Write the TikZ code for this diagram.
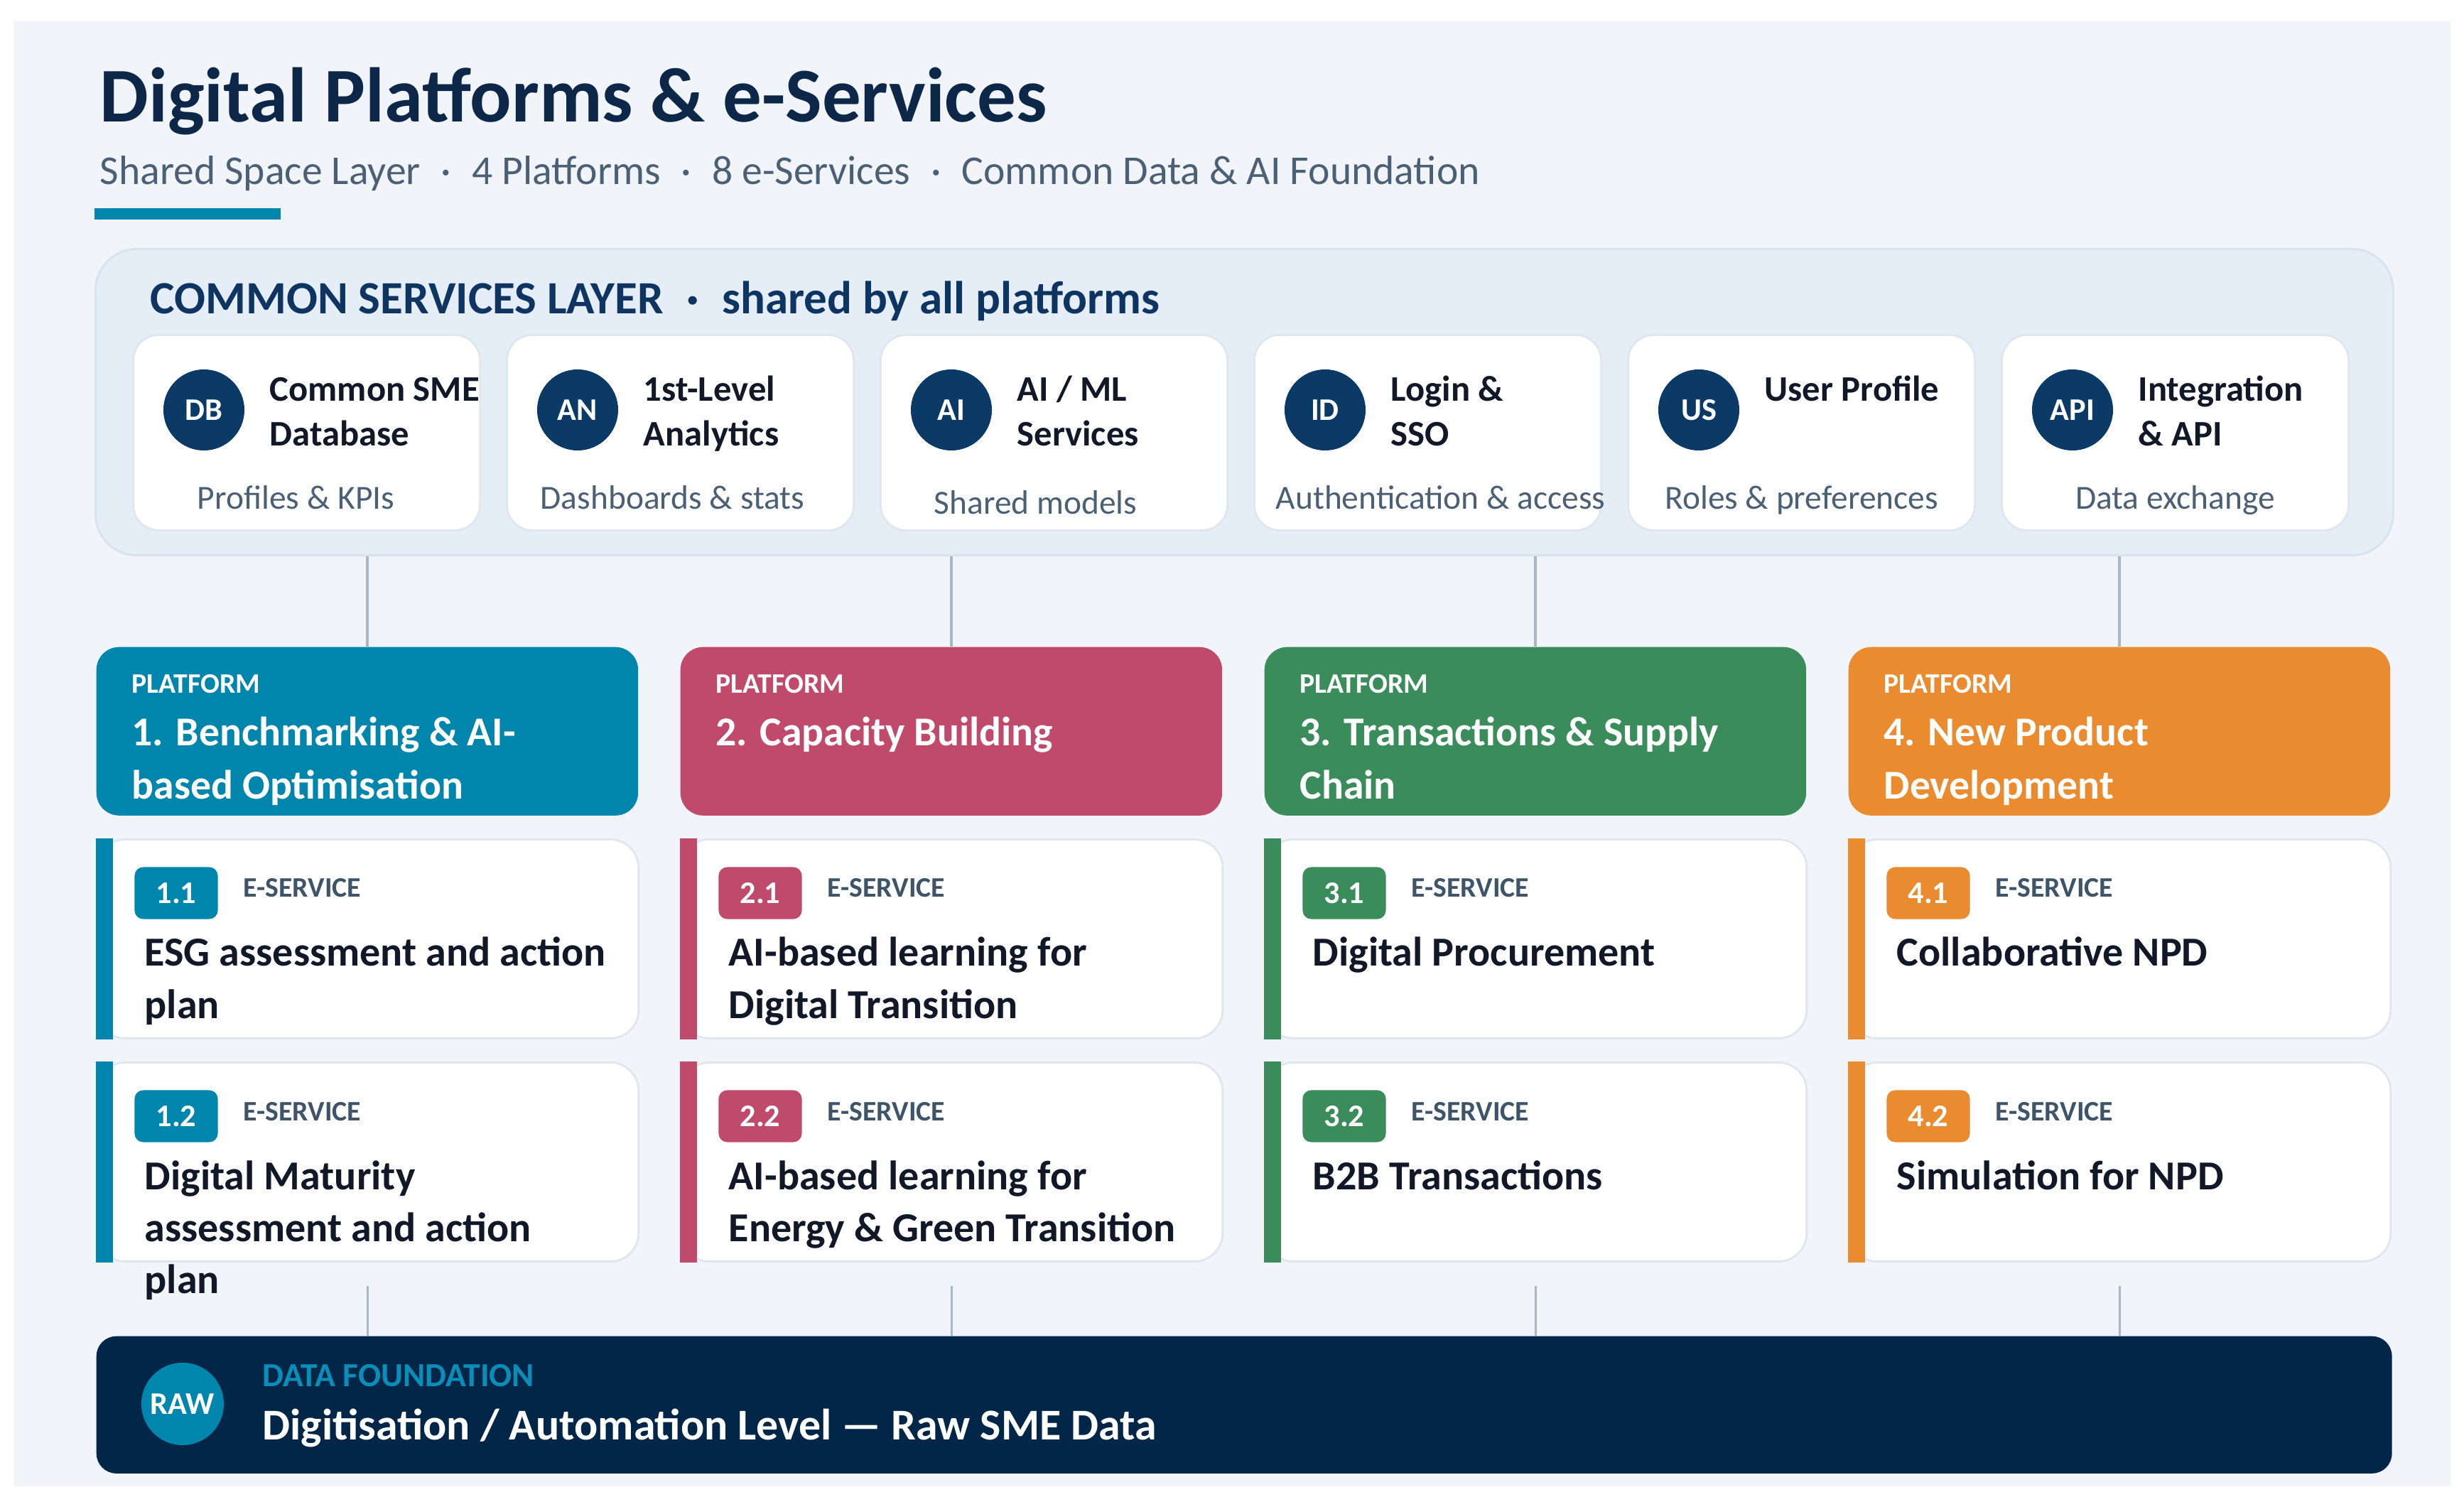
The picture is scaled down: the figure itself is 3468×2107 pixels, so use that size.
\documentclass[tikz,border=0pt]{standalone}
\usepackage{fontspec}
\setmainfont{Carlito}
\usepackage{tikz}
\usetikzlibrary{positioning,calc}

\definecolor{pageBg}{HTML}{F1F5F9}
\definecolor{layerBg}{HTML}{E5EDF6}
\definecolor{layerLine}{HTML}{D9E3EE}
\definecolor{cardLine}{HTML}{DFE6EE}
\definecolor{titleNavy}{HTML}{0D2748}
\definecolor{headNavy}{HTML}{0E3561}
\definecolor{iconNavy}{HTML}{0B3A66}
\definecolor{slate}{HTML}{4B6075}
\definecolor{tagGray}{HTML}{3E5468}
\definecolor{ink}{HTML}{111827}
\definecolor{linkGray}{HTML}{A9B6C4}
\definecolor{pTeal}{HTML}{0086AD}
\definecolor{pRose}{HTML}{C04A6C}
\definecolor{pLeaf}{HTML}{3A8C5A}
\definecolor{pAmber}{HTML}{E98B2E}
\definecolor{barNavy}{HTML}{012647}
\definecolor{fTeal}{HTML}{0A8DB8}

% lines of a label, baseline on the first line
\newcommand{\txtlines}[1]{\begin{tabular}[t]{@{}l@{}}#1\end{tabular}}

\begin{document}
\begin{tikzpicture}[x=0.01cm,y=-0.01cm,
txt/.style={anchor=base west,inner sep=0},
svc/.style={draw=cardLine,line width=0.8pt,fill=white,rounded corners=0.36cm,minimum width=4.88cm,minimum height=2.75cm,anchor=north west,inner sep=0},
ico/.style={circle,fill=#1,minimum size=1.14cm,inner sep=0,text=white,font=\fontsize{12.6}{15}\selectfont\bfseries},
plat/.style={fill=#1,rounded corners=0.32cm,minimum width=7.62cm,minimum height=2.37cm,anchor=north west,inner sep=0},
esvc/.style={draw=cardLine,line width=0.8pt,fill=white,rounded corners=0.4cm,minimum width=7.62cm,minimum height=2.8cm,anchor=north west,inner sep=0},
badge/.style={fill=#1,rounded corners=0.12cm,minimum width=1.17cm,minimum height=0.73cm,inner sep=0,text=white,font=\fontsize{12.6}{15}\selectfont\bfseries},
link/.style={draw=linkGray,line width=0.9pt}]

% page and margins
\fill[white] (0,0) rectangle (3468,2107);
\useasboundingbox (0,0) rectangle (3468,2107);
\fill[pageBg] (20,29) rectangle (3449,2092);

% heading
\node (title) [txt,text=titleNavy,font=\fontsize{31}{38}\selectfont\bfseries] at (140,172) {Digital Platforms \& e-Services};
\node (subtitle) [txt,text=slate,font=\fontsize{16.4}{20}\selectfont] at (140,260)
   {Shared Space Layer\enspace·\enspace 4 Platforms\enspace·\enspace 8 e-Services\enspace·\enspace Common Data \& AI Foundation};
\fill[pTeal] (133,293) rectangle (395,309);

% common services layer
\node (common) [fill=layerBg,draw=layerLine,line width=0.8pt,rounded corners=0.58cm,minimum width=32.32cm,minimum height=4.31cm,anchor=north west,inner sep=0] at (133,349) {};
\node (commonHead) [txt,text=headNavy,font=\fontsize{18.5}{22}\selectfont\bfseries] at (211,442)
   {COMMON SERVICES LAYER\enspace·\enspace shared by all platforms};
\foreach \i/\tag/\name/\sub/\dx/\dy in %
{0/DB/{Common SME\\Database}/{Profiles \& KPIs}/-15/0,
 1/AN/{1st-Level\\Analytics}/{Dashboards \& stats}/-11/0,
 2/AI/{AI / ML\\Services}/{Shared models}/-26/7,
 3/ID/{Login \&\\SSO}/{Authentication \& access}/18/0,
 4/US/{User Profile}/{Roles \& preferences}/0/0,
 5/API/{Integration\\\& API}/{Data exchange}/0/0} {
   \node (cs\i) [svc] at (186+526*\i,470) {};
   \node (cs\i-ico) [ico=iconNavy] at ([shift={(101,107)}]cs\i.north west) {\tag};
   \node (cs\i-name) [txt,text=ink,font=\fontsize{14.4}{17.9}\selectfont\bfseries] at ([shift={(193,95)}]cs\i.north west) {\txtlines{\name}};
   \node (cs\i-sub) [anchor=base,inner sep=0,text=slate,font=\fontsize{13.5}{16}\selectfont] at ([shift={(\dx,247+\dy)}]cs\i.north) {\sub};
}

% platforms
\foreach \i/\col/\name in %
{1/pTeal/{1. Benchmarking \& AI-\\based Optimisation},
 2/pRose/{2. Capacity Building},
 3/pLeaf/{3. Transactions \& Supply\\Chain},
 4/pAmber/{4. New Product\\Development}} {
   \node (p\i) [plat=\col] at (135+822*\i-822,910) {};
   \node (p\i-kind) [txt,text=white,font=\fontsize{11.3}{13}\selectfont\bfseries] at ([shift={(50,66)}]p\i.north west) {PLATFORM};
   \node (p\i-name) [txt,text=white,font=\fontsize{16.4}{21.3}\selectfont\bfseries] at ([shift={(50,140)}]p\i.north west) {\txtlines{\name}};
   \draw[link] (p\i.north |- common.south) -- (p\i.north);
}

% e-services
\foreach \p/\k/\col/\name in %
{1/1/pTeal/{ESG assessment and action\\plan},
 1/2/pTeal/{Digital Maturity\\assessment and action\\plan},
 2/1/pRose/{AI-based learning for\\Digital Transition},
 2/2/pRose/{AI-based learning for\\Energy \& Green Transition},
 3/1/pLeaf/{Digital Procurement},
 3/2/pLeaf/{B2B Transactions},
 4/1/pAmber/{Collaborative NPD},
 4/2/pAmber/{Simulation for NPD}} {
   \node (e\p\k) [esvc] at (135+822*\p-822,1180+314*\k-314) {};
   \fill[\col] (e\p\k.north west) rectangle ($(e\p\k.south west)+(24,0)$);
   \node (e\p\k-tag) [badge=\col] at ([shift={(113,77)}]e\p\k.north west) {\p.\k};
   \node (e\p\k-kind) [txt,text=tagGray,font=\fontsize{11.3}{13}\selectfont\bfseries] at ([shift={(207,83)}]e\p\k.north west) {E-SERVICE};
   \node (e\p\k-name) [txt,text=ink,font=\fontsize{16.5}{20.9}\selectfont\bfseries] at ([shift={(68,180)}]e\p\k.north west) {\txtlines{\name}};
}

% data foundation
\node (found) [fill=barNavy,rounded corners=0.28cm,minimum width=32.29cm,minimum height=1.93cm,anchor=north west,inner sep=0] at (135,1880) {};
\node (found-ico) [ico=pTeal,minimum size=1.16cm] at ([shift={(122,96)}]found.north west) {RAW};
\node (found-kind) [txt,text=fTeal,font=\fontsize{13.5}{16}\selectfont\bfseries] at ([shift={(234,71)}]found.north west) {DATA FOUNDATION};
\node (found-name) [txt,text=white,font=\fontsize{17.6}{21}\selectfont\bfseries] at ([shift={(234,146)}]found.north west)
   {Digitisation / Automation Level — Raw SME Data};
\foreach \p in {1,...,4} {
   \draw[link] ($(e\p2.south)+(0,33)$) -- (e\p2.south |- found.north);
}
\end{tikzpicture}
\end{document}
